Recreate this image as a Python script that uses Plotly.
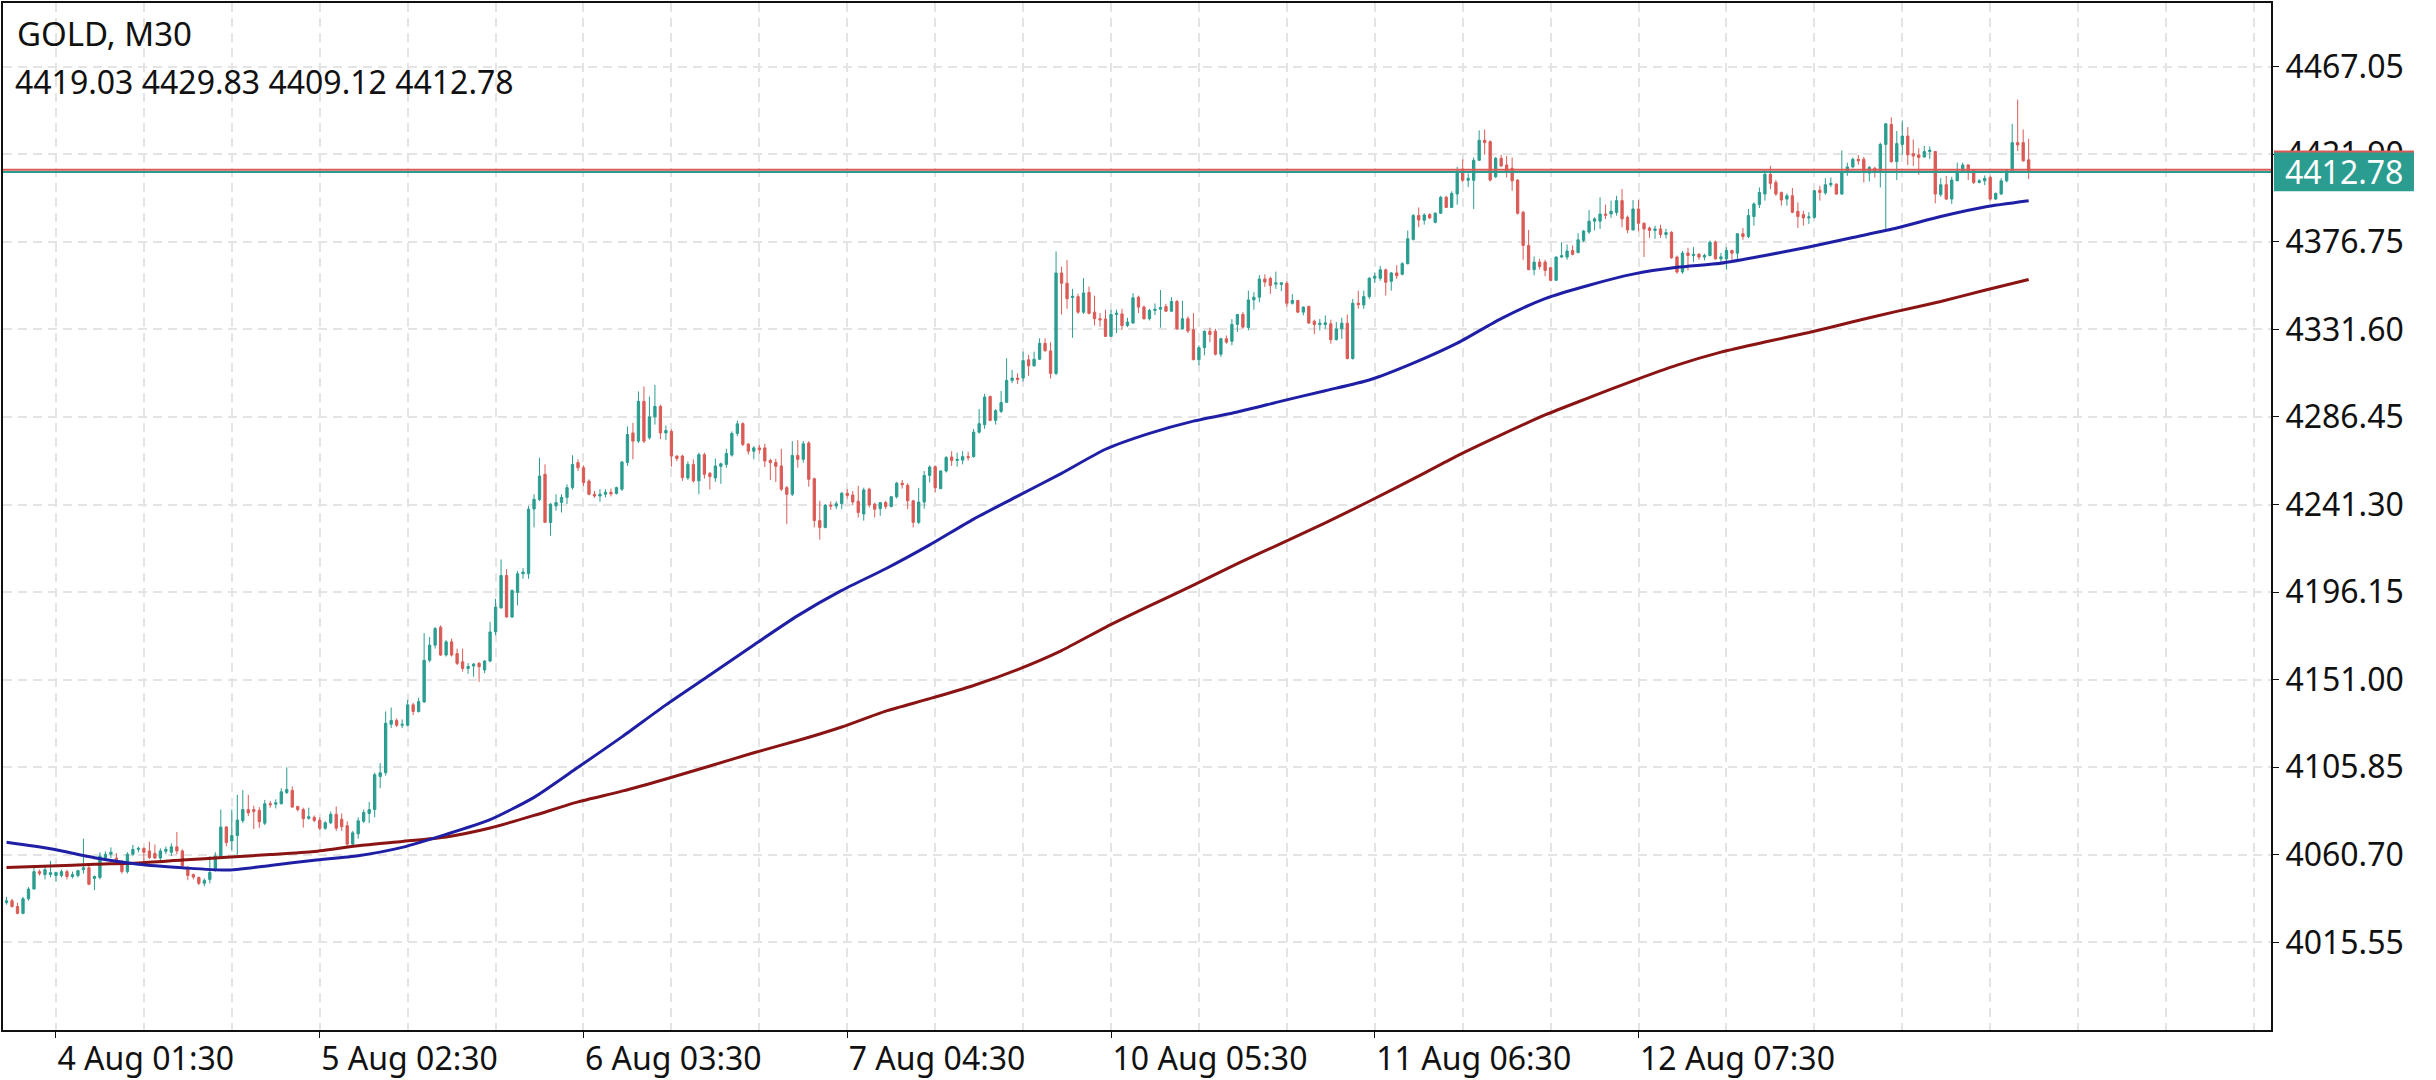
import plotly.graph_objects as go

# ---------------- data ----------------
symbol_title = "GOLD, M30"
ohlc_caption = "4419.03 4429.83 4409.12 4412.78"
last_price = 4412.78
ask_price = 4413.9

date_labels = ["4 Aug 01:30", "5 Aug 02:30", "6 Aug 03:30", "7 Aug 04:30",
               "10 Aug 05:30", "11 Aug 06:30", "12 Aug 07:30"]
price_ticks = [4015.55, 4060.70, 4105.85, 4151.00, 4196.15, 4241.30,
               4286.45, 4331.60, 4376.75, 4421.90, 4467.05]

opens = [
    4036.0, 4037.0, 4034.0, 4030.5, 4038.0, 4043.0, 4052.0, 4050.5, 4050.5, 4050.0,
    4050.0, 4052.0, 4049.5, 4050.0, 4053.0, 4054.0, 4048.5, 4049.0, 4059.0, 4061.0,
    4059.0, 4057.0, 4052.0, 4061.0, 4063.5, 4064.0, 4062.7, 4061.4, 4059.0, 4062.5,
    4062.0, 4064.8, 4062.7, 4053.3, 4050.5, 4049.0, 4046.0, 4048.0, 4052.8, 4059.7,
    4075.0, 4067.8, 4070.6, 4078.3, 4084.0, 4084.0, 4083.6, 4077.0, 4087.0, 4086.8,
    4087.0, 4092.8, 4093.9, 4085.6, 4084.0, 4079.5, 4080.0, 4078.5, 4074.4, 4077.2,
    4081.6, 4079.0, 4075.7, 4066.2, 4071.5,
    4078.0, 4082.0, 4084.0, 4101.0, 4103.0, 4128.0, 4130.0, 4127.5, 4127.5, 4138.0,
    4134.6, 4139.5, 4161.0, 4168.8, 4178.0, 4163.7, 4170.5, 4164.5, 4160.2, 4156.8,
    4158.0, 4159.4, 4156.0, 4160.6, 4175.6, 4188.0, 4204.7, 4183.3, 4196.0, 4205.6,
    4205.6, 4239.0, 4243.9, 4256.9, 4232.0, 4240.6, 4242.3, 4245.0, 4250.0, 4262.9,
    4260.3, 4253.4, 4246.6, 4245.7, 4246.6, 4247.6, 4247.0, 4249.2, 4263.0, 4278.2,
    4274.0, 4294.5, 4275.7, 4286.5, 4291.9, 4278.2, 4279.0, 4266.3, 4266.3, 4255.0,
    4262.0,
    4253.5, 4267.0, 4257.4, 4255.0, 4261.0, 4262.0, 4266.8, 4277.9, 4283.0, 4272.5,
    4268.8, 4270.5, 4270.5, 4264.0, 4263.0, 4261.2, 4250.0, 4246.6, 4266.6, 4264.6,
    4273.0, 4254.6, 4233.0, 4229.5, 4241.0, 4240.5, 4241.7, 4247.1, 4246.2, 4243.0,
    4236.4, 4249.2, 4241.5, 4239.2, 4242.3, 4240.3, 4245.3, 4252.3, 4251.2, 4243.2,
    4232.1, 4242.6, 4256.3, 4260.8, 4249.5, 4258.6, 4265.8, 4264.0, 4264.2, 4266.0,
    4266.0, 4278.6, 4282.5, 4297.0, 4284.7, 4289.3, 4294.0, 4305.3, 4306.5, 4306.5,
    4315.9, 4312.8, 4316.2, 4324.4,
    4320.5, 4308.9, 4360.7, 4355.4, 4348.0, 4348.5, 4340.5, 4350.7, 4340.5, 4337.1,
    4337.0, 4328.0, 4339.3, 4339.6, 4333.6, 4334.9, 4348.2, 4343.1, 4337.1, 4341.4,
    4342.0, 4343.4, 4341.0, 4346.0, 4331.9, 4337.1, 4331.4, 4316.0, 4322.2, 4330.6,
    4330.6, 4318.8, 4326.8, 4325.5, 4334.2, 4339.3, 4332.6, 4346.8, 4348.2, 4357.6,
    4357.9, 4354.9, 4354.8, 4355.4, 4345.1, 4346.5, 4340.5, 4343.4, 4335.8, 4334.1,
    4334.1, 4334.5, 4326.3, 4331.9, 4334.8, 4316.6, 4345.1, 4344.2, 4348.5, 4358.0,
    4358.0, 4362.3, 4356.4, 4360.7,
    4360.0, 4365.5, 4378.0, 4390.3, 4387.9, 4390.8, 4386.8, 4391.5, 4399.7, 4394.5,
    4401.4, 4414.2, 4408.5, 4408.5, 4418.8, 4429.1, 4428.4, 4410.3, 4419.8, 4416.4,
    4414.7, 4408.6, 4392.0, 4374.9, 4362.4, 4366.3, 4366.3, 4363.4, 4356.9, 4368.9,
    4368.9, 4372.3, 4371.2, 4377.5, 4381.8, 4387.4, 4387.4, 4391.1, 4391.1, 4391.9,
    4398.0, 4389.4, 4382.9, 4393.7, 4386.3, 4383.9, 4382.6, 4383.4, 4380.5, 4381.7,
    4368.9, 4361.2, 4371.0, 4369.7, 4370.3, 4368.9, 4369.7, 4376.6, 4368.0, 4368.0,
    4372.3, 4370.9, 4380.9, 4379.5,
    4389.8, 4396.0, 4401.4, 4411.6, 4407.4, 4402.2, 4398.8, 4400.5, 4392.5, 4390.8,
    4389.1, 4389.4, 4403.4, 4402.0, 4406.2, 4406.5, 4401.4, 4412.5, 4415.4, 4419.3,
    4419.3, 4412.2, 4414.7, 4412.5, 4427.0, 4437.3, 4418.1, 4427.0, 4431.3, 4422.2,
    4421.6, 4420.5, 4423.3, 4423.3, 4401.1, 4406.2, 4398.8, 4408.2, 4413.3, 4416.4,
    4413.7, 4407.4, 4408.2, 4410.0, 4398.8, 4401.4, 4408.2, 4413.35, 4427.9, 4427.9,
    4419.03,
]

highs = [
    4039.0, 4038.0, 4036.0, 4039.0, 4044.0, 4055.0, 4053.0, 4055.0, 4057.5, 4052.0,
    4053.0, 4053.0, 4052.0, 4053.0, 4069.0, 4056.0, 4050.0, 4062.0, 4062.5, 4064.5,
    4061.5, 4058.0, 4062.0, 4065.8, 4065.0, 4064.5, 4067.4, 4066.0, 4064.0, 4065.0,
    4066.6, 4072.5, 4063.5, 4055.0, 4051.0, 4049.5, 4048.5, 4060.0, 4062.0, 4084.0,
    4075.5, 4084.0, 4091.6, 4094.0, 4091.6, 4086.0, 4085.3, 4089.0, 4088.5, 4089.3,
    4095.0, 4105.8, 4096.0, 4086.0, 4085.0, 4085.0, 4081.0, 4080.0, 4078.0, 4083.0,
    4085.6, 4082.0, 4078.0, 4073.0, 4080.0,
    4084.0, 4088.0, 4103.0, 4108.0, 4134.6, 4136.6, 4131.0, 4130.5, 4140.6, 4139.0,
    4141.7, 4175.0, 4173.0, 4178.2, 4179.0, 4171.4, 4172.2, 4167.0, 4167.0, 4159.5,
    4159.6, 4160.0, 4161.0, 4180.8, 4192.7, 4213.0, 4208.0, 4197.5, 4207.0, 4208.5,
    4240.6, 4246.6, 4265.4, 4262.0, 4242.0, 4246.6, 4246.6, 4251.7, 4266.7, 4264.6,
    4261.5, 4254.3, 4248.3, 4249.2, 4249.2, 4249.5, 4250.5, 4263.7, 4281.6, 4283.4,
    4299.6, 4302.2, 4297.0, 4303.0, 4292.8, 4282.0, 4280.0, 4266.6, 4267.0, 4263.5,
    4264.6,
    4268.0, 4268.0, 4258.0, 4265.0, 4262.9, 4270.0, 4279.0, 4284.6, 4283.7, 4273.0,
    4271.4, 4272.0, 4272.6, 4264.9, 4264.9, 4270.0, 4250.9, 4274.0, 4274.5, 4274.0,
    4274.0, 4255.2, 4243.2, 4241.5, 4243.0, 4243.0, 4247.8, 4249.2, 4248.3, 4250.9,
    4250.0, 4250.0, 4242.3, 4242.6, 4243.2, 4245.7, 4253.0, 4254.0, 4252.3, 4243.7,
    4249.9, 4258.6, 4261.5, 4261.5, 4259.0, 4266.3, 4268.8, 4268.0, 4268.8, 4268.5,
    4280.3, 4290.5, 4298.4, 4297.4, 4290.5, 4299.9, 4316.7, 4310.7, 4309.0, 4320.1,
    4318.4, 4320.1, 4327.0, 4327.0,
    4325.0, 4371.8, 4364.0, 4367.3, 4352.5, 4350.0, 4358.0, 4353.7, 4349.0, 4340.0,
    4341.7, 4341.7, 4341.7, 4342.2, 4337.6, 4350.3, 4349.0, 4344.0, 4342.2, 4345.0,
    4351.9, 4344.8, 4348.2, 4346.8, 4346.4, 4338.3, 4340.0, 4323.4, 4331.1, 4332.5,
    4331.9, 4327.3, 4328.5, 4336.9, 4339.6, 4340.5, 4351.6, 4350.8, 4359.6, 4360.0,
    4358.8, 4361.4, 4356.0, 4356.4, 4349.9, 4346.8, 4343.4, 4343.9, 4336.6, 4337.0,
    4338.8, 4336.6, 4335.4, 4337.6, 4339.3, 4347.3, 4351.6, 4351.6, 4358.5, 4361.0,
    4364.4, 4362.9, 4361.2, 4364.7,
    4366.3, 4382.6, 4391.1, 4394.5, 4391.5, 4391.5, 4392.0, 4400.5, 4400.5, 4402.8,
    4415.4, 4419.3, 4412.0, 4420.2, 4434.2, 4434.7, 4429.1, 4420.5, 4421.6, 4421.0,
    4420.2, 4409.1, 4392.8, 4382.9, 4369.2, 4368.0, 4367.5, 4363.8, 4369.2, 4376.6,
    4375.4, 4374.9, 4381.2, 4382.9, 4393.2, 4389.4, 4399.7, 4396.0, 4398.0, 4400.5,
    4404.0, 4390.3, 4398.3, 4398.3, 4386.8, 4384.6, 4385.1, 4385.6, 4383.5, 4382.2,
    4369.7, 4372.0, 4373.7, 4374.0, 4371.0, 4370.6, 4377.4, 4377.4, 4371.0, 4374.0,
    4372.6, 4381.2, 4383.9, 4393.7,
    4397.1, 4404.8, 4414.2, 4415.9, 4408.6, 4402.7, 4401.7, 4404.5, 4397.1, 4392.8,
    4392.0, 4403.4, 4405.7, 4409.6, 4409.9, 4406.9, 4423.9, 4417.6, 4420.2, 4421.5,
    4420.5, 4415.9, 4415.4, 4427.9, 4438.1, 4441.0, 4433.9, 4439.3, 4435.9, 4429.6,
    4425.0, 4426.2, 4426.0, 4423.6, 4409.6, 4410.8, 4410.3, 4417.6, 4417.6, 4416.8,
    4414.2, 4409.1, 4411.0, 4410.8, 4402.2, 4409.6, 4414.2, 4437.6, 4450.1, 4434.7,
    4429.83,
]

lows = [
    4035.0, 4033.5, 4030.0, 4030.0, 4037.0, 4043.0, 4050.0, 4048.0, 4049.0, 4047.0,
    4049.0, 4048.0, 4048.5, 4049.0, 4051.0, 4045.0, 4042.5, 4048.0, 4058.0, 4059.0,
    4055.9, 4051.0, 4051.0, 4060.0, 4062.0, 4056.0, 4058.5, 4058.5, 4057.0, 4061.0,
    4060.0, 4061.0, 4054.0, 4047.6, 4048.0, 4045.0, 4044.5, 4046.0, 4052.0, 4059.0,
    4065.0, 4063.0, 4060.7, 4077.0, 4080.6, 4074.0, 4074.6, 4076.0, 4085.0, 4084.6,
    4086.7, 4092.0, 4085.0, 4083.0, 4074.7, 4078.8, 4077.5, 4073.5, 4073.5, 4076.5,
    4073.0, 4073.0, 4064.5, 4065.0, 4069.0,
    4077.0, 4077.0, 4080.0, 4095.0, 4101.5, 4126.0, 4126.5, 4126.0, 4127.0, 4132.7,
    4134.0, 4139.0, 4160.0, 4167.0, 4163.2, 4162.9, 4162.9, 4158.5, 4155.1, 4154.0,
    4152.5, 4149.9, 4154.3, 4160.0, 4173.9, 4187.6, 4183.0, 4182.8, 4189.3, 4203.0,
    4203.0, 4229.5, 4243.0, 4232.0, 4225.2, 4238.1, 4237.2, 4241.5, 4249.0, 4258.6,
    4250.9, 4246.1, 4244.8, 4242.7, 4245.0, 4245.5, 4246.5, 4248.3, 4261.2, 4264.6,
    4273.0, 4273.0, 4274.8, 4282.5, 4275.0, 4274.5, 4260.8, 4263.7, 4253.5, 4254.0,
    4252.6,
    4246.6, 4254.6, 4249.0, 4253.0, 4252.0, 4260.3, 4266.0, 4276.5, 4271.4, 4267.1,
    4264.6, 4267.5, 4260.6, 4254.0, 4252.9, 4248.3, 4231.2, 4245.7, 4260.3, 4262.9,
    4250.5, 4229.5, 4223.2, 4229.0, 4238.5, 4238.9, 4238.9, 4244.4, 4241.0, 4234.6,
    4233.0, 4239.8, 4234.6, 4235.5, 4238.9, 4239.8, 4244.4, 4249.5, 4238.9, 4229.5,
    4231.2, 4239.2, 4252.6, 4247.5, 4249.2, 4257.8, 4261.2, 4260.8, 4262.0, 4264.0,
    4265.4, 4277.9, 4280.3, 4284.2, 4282.5, 4288.5, 4293.6, 4303.9, 4303.5, 4304.7,
    4307.7, 4312.4, 4315.9, 4320.1,
    4306.3, 4308.0, 4339.3, 4342.2, 4327.3, 4339.6, 4339.6, 4339.3, 4333.7, 4333.0,
    4327.7, 4327.7, 4329.7, 4331.4, 4332.8, 4334.5, 4340.0, 4336.6, 4336.2, 4339.0,
    4332.5, 4340.5, 4340.5, 4331.4, 4331.4, 4329.7, 4315.7, 4313.1, 4318.2, 4325.0,
    4318.2, 4317.4, 4324.2, 4323.4, 4330.2, 4331.9, 4331.1, 4341.7, 4345.6, 4353.5,
    4349.9, 4352.5, 4351.3, 4343.4, 4344.4, 4340.0, 4338.8, 4334.5, 4329.1, 4331.0,
    4331.9, 4324.2, 4325.9, 4326.7, 4316.1, 4316.0, 4342.2, 4342.2, 4347.3, 4355.5,
    4356.7, 4349.0, 4351.6, 4357.6,
    4359.5, 4365.1, 4377.4, 4384.3, 4385.6, 4388.5, 4386.3, 4391.1, 4394.2, 4394.2,
    4395.9, 4407.4, 4405.0, 4393.7, 4418.5, 4421.6, 4407.9, 4409.6, 4415.4, 4409.9,
    4403.1, 4390.8, 4367.5, 4362.1, 4359.5, 4362.5, 4359.0, 4356.6, 4356.6, 4368.4,
    4367.5, 4369.8, 4370.8, 4376.6, 4380.9, 4382.6, 4383.4, 4388.5, 4389.1, 4390.3,
    4384.3, 4381.2, 4382.6, 4382.2, 4368.9, 4378.8, 4378.3, 4378.8, 4378.5, 4368.0,
    4360.3, 4360.3, 4362.0, 4366.3, 4367.5, 4367.2, 4369.2, 4367.5, 4365.5, 4362.4,
    4367.5, 4367.5, 4377.8, 4378.6,
    4385.1, 4394.2, 4398.0, 4403.9, 4400.5, 4395.4, 4395.4, 4391.5, 4383.9, 4385.1,
    4386.0, 4388.6, 4398.0, 4401.0, 4405.0, 4401.0, 4401.0, 4410.8, 4414.7, 4416.5,
    4407.4, 4407.9, 4409.9, 4404.8, 4383.4, 4417.6, 4408.6, 4421.6, 4416.4, 4415.9,
    4411.3, 4420.2, 4419.5, 4396.6, 4400.0, 4398.3, 4396.3, 4408.2, 4412.5, 4408.6,
    4406.5, 4406.9, 4406.0, 4398.0, 4398.3, 4401.0, 4407.4, 4413.0, 4423.6, 4418.1,
    4409.12,
]

closes = [
    4037.0, 4034.0, 4030.5, 4038.0, 4043.0, 4052.0, 4051.0, 4053.0, 4051.5, 4051.5,
    4052.0, 4049.5, 4050.5, 4052.5, 4054.0, 4045.5, 4049.5, 4060.0, 4061.0, 4062.0,
    4056.5, 4052.0, 4061.0, 4063.5, 4064.0, 4062.0, 4059.3, 4059.0, 4062.7, 4063.5,
    4064.8, 4062.7, 4055.0, 4050.0, 4049.2, 4046.0, 4047.5, 4051.6, 4060.0, 4075.0,
    4067.0, 4070.6, 4078.6, 4084.0, 4082.3, 4083.0, 4077.7, 4087.0, 4086.5, 4087.5,
    4093.2, 4094.4, 4085.3, 4084.0, 4079.3, 4080.3, 4078.4, 4074.4, 4077.2, 4081.6,
    4074.4, 4075.2, 4066.2, 4072.0, 4078.2,
    4082.5, 4084.0, 4102.0, 4103.0, 4128.5, 4130.0, 4127.5, 4128.0, 4138.0, 4134.6,
    4139.7, 4161.0, 4168.8, 4177.3, 4163.7, 4170.5, 4163.7, 4159.4, 4156.8, 4157.8,
    4159.0, 4157.7, 4160.6, 4175.6, 4188.4, 4204.7, 4183.3, 4197.0, 4205.6, 4206.5,
    4238.9, 4244.0, 4256.0, 4232.1, 4241.5, 4242.3, 4245.0, 4250.0, 4262.0, 4260.3,
    4252.6, 4246.6, 4245.7, 4246.6, 4247.6, 4246.8, 4250.0, 4263.2, 4277.4, 4274.0,
    4294.5, 4274.0, 4286.5, 4291.9, 4278.2, 4279.5, 4266.3, 4265.0, 4255.2, 4262.0,
    4253.5,
    4267.0, 4256.9, 4255.7, 4261.2, 4262.3, 4267.6, 4277.9, 4282.9, 4272.3, 4268.8,
    4270.5, 4269.5, 4263.7, 4262.9, 4261.0, 4249.2, 4246.6, 4266.6, 4264.6, 4272.6,
    4254.3, 4233.0, 4229.5, 4241.0, 4240.5, 4241.7, 4247.1, 4246.0, 4242.6, 4237.2,
    4248.8, 4241.0, 4238.9, 4242.3, 4240.3, 4245.3, 4252.3, 4251.5, 4243.2, 4232.1,
    4242.6, 4256.3, 4260.6, 4250.0, 4258.6, 4265.5, 4264.0, 4264.6, 4266.0, 4265.5,
    4278.6, 4283.0, 4296.7, 4284.7, 4289.7, 4293.9, 4305.3, 4306.5, 4305.8, 4315.5,
    4312.8, 4316.2, 4324.4, 4320.6,
    4308.9, 4360.7, 4355.4, 4347.4, 4348.7, 4340.5, 4350.4, 4339.9, 4337.1, 4336.5,
    4328.0, 4339.3, 4340.0, 4333.6, 4335.4, 4347.9, 4343.1, 4337.1, 4341.4, 4342.0,
    4342.9, 4341.0, 4346.0, 4331.9, 4337.1, 4330.8, 4316.0, 4322.2, 4330.6, 4329.0,
    4318.8, 4326.8, 4325.0, 4334.2, 4339.3, 4332.8, 4346.8, 4348.2, 4357.6, 4356.0,
    4354.2, 4355.6, 4355.6, 4345.1, 4346.5, 4340.5, 4343.1, 4334.9, 4334.1, 4334.8,
    4335.0, 4326.3, 4331.9, 4334.8, 4316.6, 4345.1, 4344.4, 4348.5, 4358.0, 4359.0,
    4362.3, 4355.9, 4360.7, 4359.3,
    4365.5, 4378.3, 4390.3, 4388.0, 4390.6, 4389.1, 4391.5, 4399.7, 4394.5, 4401.7,
    4413.0, 4408.5, 4409.5, 4418.8, 4429.1, 4427.9, 4408.6, 4419.8, 4415.9, 4413.0,
    4408.2, 4391.5, 4374.9, 4362.4, 4366.3, 4364.0, 4362.0, 4356.9, 4368.9, 4369.6,
    4372.0, 4370.3, 4377.8, 4382.3, 4387.4, 4388.6, 4391.1, 4390.5, 4392.5, 4398.0,
    4388.6, 4382.9, 4393.7, 4386.3, 4383.4, 4382.6, 4383.4, 4380.5, 4381.5, 4368.5,
    4361.2, 4371.0, 4369.7, 4370.3, 4368.9, 4369.7, 4376.6, 4368.0, 4369.0, 4372.3,
    4370.9, 4380.9, 4379.5, 4390.3,
    4396.3, 4402.2, 4411.6, 4406.9, 4401.4, 4398.3, 4400.5, 4392.0, 4389.8, 4389.1,
    4389.6, 4403.1, 4402.2, 4406.2, 4406.9, 4401.4, 4412.5, 4415.4, 4419.3, 4418.5,
    4412.5, 4415.1, 4412.5, 4427.0, 4437.6, 4418.1, 4427.4, 4431.3, 4421.6, 4421.0,
    4420.2, 4423.3, 4424.0, 4401.4, 4406.2, 4398.8, 4408.6, 4413.3, 4416.4, 4413.0,
    4407.4, 4408.2, 4409.5, 4398.8, 4401.7, 4408.2, 4413.35, 4427.9, 4426.7, 4418.5,
    4412.78,
]

# moving averages, sampled every 8 bars from the first bar
ma_fast = [
    4067.1, 4063.8, 4059.2, 4055.8, 4054.0, 4052.8, 4055.2, 4057.9, 4060.2, 4064.5,
    4071.2, 4078.8, 4090.3, 4105.8, 4121.5, 4138.0, 4153.4, 4168.9, 4184.0, 4197.0,
    4208.2, 4220.5, 4233.8, 4245.6, 4257.4, 4269.8, 4278.0, 4284.3, 4289.0, 4294.6,
    4300.0, 4305.5, 4314.2, 4324.5, 4337.2, 4347.5, 4354.4, 4360.1, 4363.6, 4365.7,
    4369.7, 4374.1, 4379.0, 4383.9, 4389.8, 4394.7, 4397.9,
]
ma_slow = [
    4054.2, 4054.9, 4055.8, 4056.5, 4058.0, 4059.4, 4060.8, 4062.4, 4065.4, 4067.6,
    4069.9, 4074.5, 4081.0, 4088.0, 4093.5, 4099.8, 4106.5, 4113.3, 4119.6, 4126.6,
    4134.8, 4141.2, 4148.0, 4156.2, 4166.0, 4178.0, 4189.0, 4199.7, 4210.8, 4221.3,
    4231.8, 4243.0, 4254.5, 4266.4, 4277.2, 4287.5, 4296.4, 4305.1, 4313.2, 4319.9,
    4325.1, 4330.0, 4335.5, 4340.9, 4346.0, 4351.8, 4357.3,
]

FIRST_BAR = -9          # bars before the "4 Aug 01:30" bar
BARS_PER_LABEL = 48     # M30 bars between date labels
BARS_PER_GRID = 16
MA_STEP = 8

# ---------------- styling ----------------
TEAL = "#2a9d90"
RED = "#da5b56"
BLUE = "#1f1fa6"
MAROON = "#8a1414"
GRID = "#e4e4e4"
FONT = "Noto Sans"

bars = list(range(FIRST_BAR, FIRST_BAR + len(opens)))
ma_x = list(range(FIRST_BAR, FIRST_BAR + MA_STEP * len(ma_fast), MA_STEP))
label_bars = [i * BARS_PER_LABEL for i in range(len(date_labels))]
grid_bars = list(range(0, 404, BARS_PER_GRID))

fig = go.Figure()
fig.add_trace(go.Candlestick(
    x=bars, open=opens, high=highs, low=lows, close=closes,
    increasing=dict(line=dict(color=TEAL, width=1), fillcolor=TEAL),
    decreasing=dict(line=dict(color=RED, width=1), fillcolor=RED),
    whiskerwidth=0, hoverinfo="skip", showlegend=False,
))
fig.add_trace(go.Scatter(x=ma_x, y=ma_slow, mode="lines",
                         line=dict(color=MAROON, width=3, shape="spline", smoothing=0.6),
                         hoverinfo="skip", showlegend=False))
fig.add_trace(go.Scatter(x=ma_x, y=ma_fast, mode="lines",
                         line=dict(color=BLUE, width=3, shape="spline", smoothing=0.6),
                         hoverinfo="skip", showlegend=False))

# price lines
fig.add_shape(type="line", xref="x domain", x0=0, x1=1, yref="y",
              y0=ask_price, y1=ask_price, line=dict(color=RED, width=2), layer="above")
fig.add_shape(type="line", xref="x domain", x0=0, x1=1, yref="y",
              y0=last_price, y1=last_price, line=dict(color=TEAL, width=2), layer="above")
# price label box (red ask edge behind teal bid box)
fig.add_shape(type="rect", xref="paper", x0=1.0013, x1=1.063, yref="y",
              y0=ask_price - 10.0, y1=ask_price + 10.0,
              fillcolor=RED, line=dict(width=0), layer="above")
fig.add_shape(type="rect", xref="paper", x0=1.0013, x1=1.063, yref="y",
              y0=last_price - 10.0, y1=last_price + 10.0,
              fillcolor=TEAL, line=dict(width=0), layer="above")
fig.add_annotation(xref="paper", x=1.0322, yref="y", y=last_price,
                   text=f"{last_price:.2f}", showarrow=False,
                   xanchor="center", yanchor="middle",
                   font=dict(family=FONT, size=32, color="white"))

fig.add_annotation(xref="paper", x=0, xanchor="left", xshift=12,
                   yref="paper", y=1, yanchor="top", yshift=-6,
                   text=symbol_title, showarrow=False,
                   font=dict(family=FONT, size=33, color="#111111"))
fig.add_annotation(xref="paper", x=0, xanchor="left", xshift=10,
                   yref="paper", y=1, yanchor="top", yshift=-55,
                   text=ohlc_caption, showarrow=False,
                   font=dict(family=FONT, size=32, color="#111111"))

fig.update_layout(
    width=2436, height=1080,
    margin=dict(l=1, r=165, t=1, b=47),
    paper_bgcolor="white", plot_bgcolor="white",
    boxgap=0.4,
    showlegend=False,
    font=dict(family=FONT, size=32, color="#111111"),
    xaxis=dict(
        range=[-9.64, 403.1],
        tickmode="array", tickvals=label_bars, ticktext=date_labels,
        ticks="outside", ticklen=6, tickcolor="#111111",
        ticklabelposition="outside right",
        showline=True, linecolor="#111111", linewidth=2, mirror=True,
        showgrid=True, gridcolor=GRID, gridwidth=1.5, griddash="9px,6px",
        minor=dict(tickmode="array", tickvals=grid_bars, showgrid=True,
                   gridcolor=GRID, gridwidth=1.5, griddash="9px,6px", ticks=""),
        zeroline=False, rangeslider=dict(visible=False),
        tickfont=dict(family=FONT, size=32, color="#111111"),
        fixedrange=True,
    ),
    yaxis=dict(
        side="right",
        range=[3970.35, 4499.9],
        tickmode="array", tickvals=price_ticks,
        ticktext=[f"{v:.2f}" for v in price_ticks],
        ticks="outside", ticklen=6, tickcolor="#111111",
        showline=True, linecolor="#111111", linewidth=2, mirror=True,
        showgrid=True, gridcolor=GRID, gridwidth=1.5, griddash="9px,6px",
        zeroline=False,
        tickfont=dict(family=FONT, size=32, color="#111111"),
        fixedrange=True,
    ),
)

fig.write_html(
    "out.html",
    config={"displayModeBar": False},
    post_script="document.body.style.margin='0';document.body.style.padding='0';"
                "document.body.style.overflow='hidden';",
)
